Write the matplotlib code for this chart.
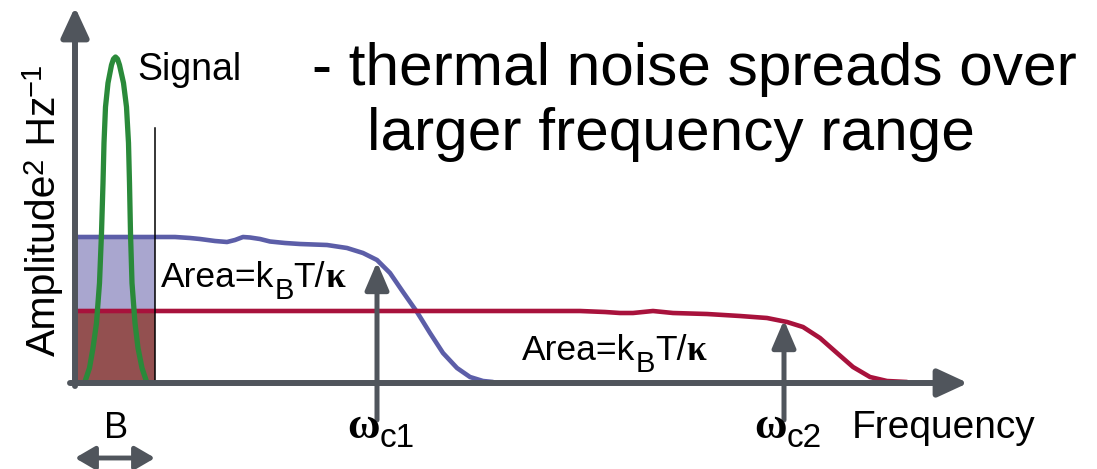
import numpy as np
from matplotlib import pyplot as plt

plt.rcParams['font.family'] = ['Liberation Sans', 'DejaVu Sans']

# noise spectrum for the low cut-off (blue) and high cut-off (red) oscillator
blue_x = np.array([75, 155, 175, 190, 200, 215, 227, 235, 243, 250, 260, 270, 285, 300, 327, 347, 363,
                   377, 390, 403, 417, 430, 443, 457, 470, 483, 493])
blue_y = np.array([146, 146, 146, 145, 144, 142, 141, 143, 146, 145.5, 144, 141.5, 140, 139, 138, 135,
                   130, 123, 110, 91, 71, 50, 30, 15, 6, 2, 1])

red_x = np.array([75, 155, 400, 580, 605, 620, 633, 643, 653, 663, 673, 690, 707, 740, 767, 787, 803,
                  820, 837, 853, 870, 887, 907])
red_y = np.array([72, 72, 72, 72, 71, 70, 70, 71, 72, 71, 70, 69.5, 69, 67, 65, 61, 56,
                  45, 30, 16, 6, 2, 1])

# signal peak inside the detection bandwidth
signal_x = np.array([85.5, 89.5, 93, 96.5, 99.5, 101.5, 103, 104, 105.5, 108, 111.5, 113.5, 115.5,
                     117.5, 119.5, 123.5, 126.5, 128.5, 129.5, 130.5, 132, 135, 138, 142, 146])
signal_y = np.array([3, 15, 35, 60, 100, 150, 200, 240, 276, 300, 318, 324, 326,
                     324, 318, 300, 276, 240, 200, 150, 100, 60, 35, 15, 3])

band = [75, 155]
cutoffs = [377, 784]
cutoff_tips = [121, 63]
cutoff_names = ['c1', 'c2']

gray = '#50555c'
blue = '#5c5ea8'
red = '#a8123c'
green = '#2a8a3a'

fig = plt.figure(figsize=(10.97, 4.69), dpi=100)
ax = fig.add_axes([0, 0, 1, 1])
ax.set_xlim(0, 1097)
ax.set_ylim(-86, 383)
ax.axis('off')
renderer = fig.canvas.get_renderer()


def draw_runs(x, y, runs, rotation=0):
    # text pieces written one after another, each with its own size and baseline shift
    pos = 0
    for text, size, shift, opts in runs:
        if rotation == 0:
            tx, ty = x + pos, y + shift
        else:
            tx, ty = x - shift, y + pos
        t = ax.text(tx, ty, text, fontsize=size, rotation=rotation, rotation_mode='anchor',
                    ha='left', va='baseline', **opts)
        bb = t.get_window_extent(renderer)
        pos += bb.width if rotation == 0 else bb.height


# filled noise power inside bandwidth B
ax.fill_between(band, [red_y[0]] * 2, [blue_y[0]] * 2, color='#a9a6cf', lw=0)
ax.fill_between(band, [0, 0], [red_y[0]] * 2, color='#935050', lw=0)

ax.plot(blue_x, blue_y, color=blue, lw=3.3, solid_capstyle='round', solid_joinstyle='round')
ax.plot(red_x, red_y, color=red, lw=3.3, solid_capstyle='round', solid_joinstyle='round')
ax.plot(signal_x, signal_y, color=green, lw=3.8, solid_joinstyle='round')
ax.plot([band[1], band[1]], [0, 255], color='black', lw=1.1)

# axes with arrow heads
head = '-|>,head_length=1.3,head_width=0.6'
ax.annotate('', xy=(968, 0), xytext=(70, 0),
            arrowprops=dict(arrowstyle=head, lw=4.3, color=gray, shrinkA=0, shrinkB=0, mutation_scale=14))
ax.annotate('', xy=(75, 376), xytext=(75, -3),
            arrowprops=dict(arrowstyle=head, lw=4.3, color=gray, shrinkA=0, shrinkB=0, mutation_scale=14))

# cut-off frequency markers
sans = {'family': 'Liberation Sans'}
serif = {'family': 'Liberation Serif'}
for x, top, name in zip(cutoffs, cutoff_tips, cutoff_names):
    ax.annotate('', xy=(x, top), xytext=(x, -37),
                arrowprops=dict(arrowstyle='-|>,head_length=1.4,head_width=0.6', lw=3.6, color=gray,
                                shrinkA=0, shrinkB=0, mutation_scale=12))
    draw_runs(x - 30, -55, [('ω', 32, 0, {'family': 'Liberation Serif', 'weight': 'bold'}),
                            (name, 24, -9, sans)])

# bandwidth marker
ax.annotate('', xy=(band[0], -75), xytext=(band[1], -75),
            arrowprops=dict(arrowstyle='<|-|>,head_length=1.2,head_width=0.7', lw=3.5, color=gray,
                            shrinkA=0, shrinkB=0, mutation_scale=10))
ax.text(sum(band) / 2 + 1, -55, 'B', fontsize=26, ha='center', va='baseline')

ax.text(137, 303, 'Signal', fontsize=27, ha='left', va='baseline')

area = [('Area=k', 25.5, 0, sans), ('B', 21, -12, sans), ('T/', 25.5, 0, sans),
        ('κ', 25.5, 0, {'family': 'Liberation Serif', 'weight': 'bold'})]
draw_runs(161, 96, area)
draw_runs(522, 23, area)

ax.text(852, -55, 'Frequency', fontsize=28, ha='left', va='baseline')

draw_runs(55, 27, [('Amplitude', 29.5, 0, sans), ('2', 21, 13, sans), (' Hz', 29.5, 0, sans),
                   ('−1', 21, 14, sans)], rotation=90)

ax.text(312, 298, '- thermal noise spreads over', fontsize=43.5, ha='left', va='baseline')
ax.text(367, 233, 'larger frequency range', fontsize=43.5, ha='left', va='baseline')

fig.savefig('out.png', dpi=100)
